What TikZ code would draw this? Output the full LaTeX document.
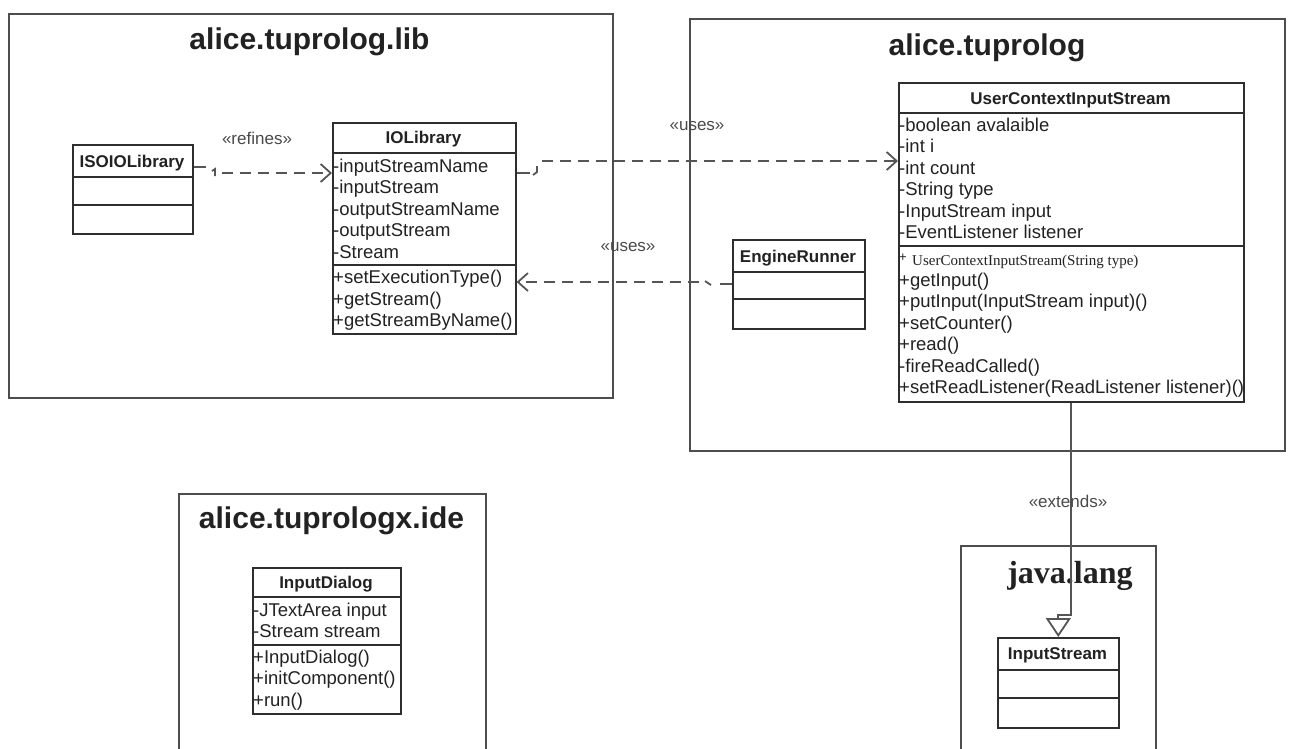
\documentclass[tikz,border=0pt]{standalone}
\usepackage{fontspec}
\setmainfont{Liberation Sans}
\newfontfamily\serifx{Liberation Serif}
\usetikzlibrary{arrows.meta}
\definecolor{pkgc}{HTML}{4D4D4D}
\definecolor{clsc}{HTML}{2E2E2E}
\definecolor{conc}{HTML}{555555}
\definecolor{txtc}{HTML}{222222}
\definecolor{lblc}{HTML}{4A4A4A}
\newcommand\memlist[4]{%
  \foreach \t [count=\i] in {#4} {\node[mem] (#1\i) at (#2,{#3+21.5*(\i-1)}) {\t};}%
}
\begin{document}
\begin{tikzpicture}[x=1pt,y=-1pt,
  pkg/.style={draw=pkgc, line width=2pt, anchor=north west, inner sep=0},
  cls/.style={draw=clsc, line width=1.6pt, anchor=north west, inner sep=0},
  sep/.style={draw=clsc, line width=1.6pt},
  ptitle/.style={font=\fontsize{30}{34}\selectfont\bfseries, text=txtc, inner sep=0, anchor=base},
  hdr/.style={font=\fontsize{17}{20}\selectfont\bfseries, text=txtc, inner sep=0, anchor=base},
  mem/.style={font=\fontsize{18.5}{21.5}\selectfont, text=txtc, inner sep=0, anchor=base west},
  lbl/.style={font=\fontsize{17}{20}\selectfont, text=lblc, inner sep=0, anchor=base},
  dep/.style={draw=conc, line width=1.8pt, dash pattern=on 11pt off 7pt},
  solidc/.style={draw=conc, line width=1.8pt},
  opentip/.style={-{Straight Barb[length=10pt,width=18pt]}},
]
\useasboundingbox (0,0) rectangle (1290,748);
\fill[white] (0,0) rectangle (1290,748);
\clip (0,0) rectangle (1290,748);

% packages
\node[pkg, minimum width=604, minimum height=384] (plib) at (8,13) {};
\node[ptitle] (plibt) at (309.5,49) {alice.tuprolog.lib};
\node[pkg, minimum width=595, minimum height=432] (ptu) at (689,18) {};
\node[ptitle] (ptut) at (987,55) {alice.tuprolog};
\node[pkg, minimum width=307, minimum height=300] (pide) at (178,493) {};
\node[ptitle] (pidet) at (331.5,528) {alice.tuprologx.ide};
\node[pkg, minimum width=195, minimum height=250] (pjl) at (960,545) {};
\node[ptitle, font=\fontsize{32}{36}\selectfont\bfseries\serifx] (pjlt) at (1070,583) {java.lang};

% ISOIOLibrary
\node[cls, minimum width=120, minimum height=89] (iso) at (72,144) {};
\draw[sep] (72,177) -- (192,177) (72,205) -- (192,205);
\node[hdr] (isoh) at (132,167) {ISOIOLibrary};

% IOLibrary
\node[cls, minimum width=183, minimum height=211] (iolib) at (332,122) {};
\draw[sep] (332,153) -- (515,153) (332,265) -- (515,265);
\node[hdr] (iolibh) at (423.5,143) {IOLibrary};
\memlist{ioa}{333}{172}{-inputStreamName,-inputStream,-outputStreamName,-outputStream,-Stream}
\memlist{iom}{333}{283.5}{+setExecutionType(),+getStream(),+getStreamByName()}

% UserContextInputStream
\node[cls, minimum width=345, minimum height=319] (ucis) at (898,82) {};
\draw[sep] (898,113) -- (1243,113) (898,246) -- (1243,246);
\node[hdr] (ucish) at (1070.5,104) {UserContextInputStream};
\memlist{uca}{899}{131}{-boolean avalaible,-int i,-int count,-String type,-InputStream input,-EventListener listener}
\node[mem, font=\fontsize{13}{15}\selectfont] (ucc) at (899,261) {+};
\node[mem, font=\fontsize{15}{18}\serifx] (ucc2) at (912,265) {UserContextInputStream(String type)};
\memlist{ucm}{899}{286}{+getInput(),+putInput(InputStream input)(),+setCounter(),+read(),-fireReadCalled(),+setReadListener(ReadListener listener)()}

% EngineRunner
\node[cls, minimum width=132, minimum height=89] (eng) at (732,239) {};
\draw[sep] (732,272) -- (864,272) (732,299) -- (864,299);
\node[hdr] (engh) at (798,262) {EngineRunner};

% InputDialog
\node[cls, minimum width=148, minimum height=146] (idlg) at (252,567) {};
\draw[sep] (252,597) -- (400,597) (252,645) -- (400,645);
\node[hdr] (idlgh) at (326,588) {InputDialog};
\memlist{ida}{253}{616}{-JTextArea input,-Stream stream}
\memlist{idm}{253}{663}{+InputDialog(),+initComponent(),+run()}

% InputStream
\node[cls, minimum width=121, minimum height=90] (isx) at (997,637) {};
\draw[sep] (997,670) -- (1118,670) (997,698) -- (1118,698);
\node[hdr] (isxh) at (1057.5,659) {InputStream};

% refines
\draw[solidc] ([yshift=-23pt]iso.north east) -- ++(12,0);
\draw[solidc] (212,171) -- (215,169) -- (215,176);
\draw[dep, opentip] (222,173) -- ([yshift=-51pt]iolib.north west);
\node[lbl] (lref) at (257,144) {«refines»};

% uses 1
\draw[solidc] ([yshift=-51pt]iolib.north east) -- ++(13,0);
\draw[solidc] (537,166) -- (537,172) -- (533,175);
\draw[dep, opentip] (542,161) -- ([yshift=-79pt]ucis.north west);
\node[lbl] (luse1) at (697,130) {«uses»};

% uses 2
\draw[solidc] ([yshift=-45pt]eng.north west) -- ++(-12,0);
\draw[solidc] (705,281) -- (711,285);
\draw[dep, opentip] (699,282) -- ([yshift=-160pt]iolib.north east);
\node[lbl] (luse2) at (628,251) {«uses»};

% extends
\draw[solidc, -{Triangle[open,length=19pt,width=25pt]}] (ucis.south) -- ++(0,212) -| (isx.north);
\node[lbl] (lext) at (1068,507) {«extends»};
\end{tikzpicture}
\end{document}
